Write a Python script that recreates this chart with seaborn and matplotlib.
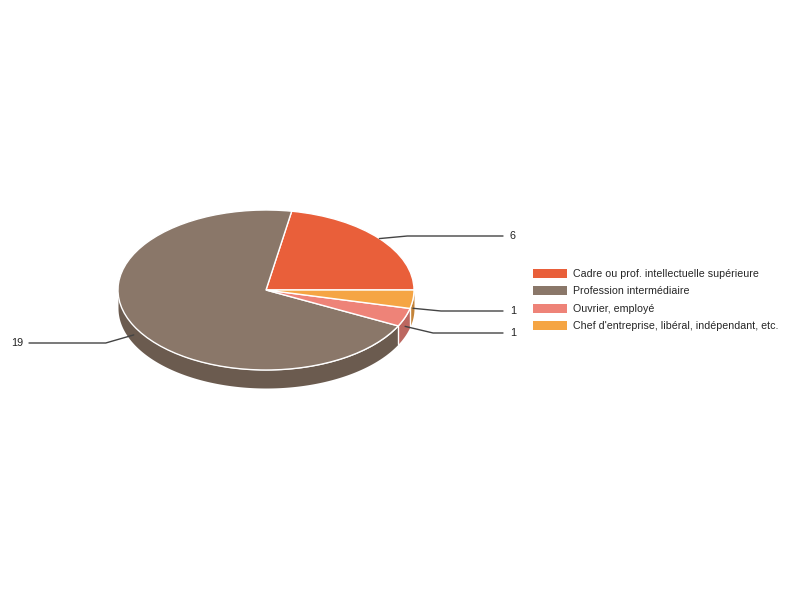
import numpy as np
import matplotlib
matplotlib.use("Agg")
import matplotlib.pyplot as plt
from matplotlib.patches import Patch
import seaborn as sns

categories = ["Cadre ou prof. intellectuelle supérieure",
              "Profession intermédiaire",
              "Ouvrier, employé",
              "Chef d'entreprise, libéral, indépendant, etc."]
counts = [6, 19, 1, 1]
top_colors = ["#E95F3A", "#8A7769", "#EE8378", "#F5A544"]
side_colors = ["#B04828", "#6B5B4F", "#BC6760", "#C4843A"]

sns.set_theme(style="white")
plt.rcParams["font.family"] = ["Liberation Sans", "DejaVu Sans"]

# pixel layout of the reference: centre (266, 290), radii 148 x 80, depth 18
cx, cy, rx, ry, depth_px = 266, 290, 148, 80, 18
depth = depth_px / ry
# label y positions (pixels)
label_y_px = [236, 343, 333, 311]

fig = plt.figure(figsize=(8, 6), dpi=100)
ax = fig.add_axes([0, 0, 1, 1])

# angles of slices (counter-clockwise from east)
vals = np.array(counts, dtype=float)
edges = np.concatenate([[0], np.cumsum(vals) / vals.sum() * 360])

# side walls for the front half
for i in range(len(vals)):
    a0, a1 = max(edges[i], 180), min(edges[i + 1], 360)
    if a1 <= a0:
        continue
    t = np.radians(np.linspace(a0, a1, 200))
    x = np.cos(t)
    ytop = np.sin(t)
    ax.fill_between(x, ytop - depth, ytop, color=side_colors[i], lw=0, zorder=1)
# white seams on the side between slices
for a in edges[1:-1]:
    if 180 < a < 360:
        r = np.radians(a)
        ax.plot([np.cos(r), np.cos(r)], [np.sin(r), np.sin(r) - depth],
                color="white", lw=1, zorder=2)

wedges, _ = ax.pie(counts, colors=top_colors, startangle=0, counterclock=True,
                   radius=1, wedgeprops=dict(edgecolor="white", linewidth=1))
for w in wedges:
    w.set_zorder(3)

ax.set_aspect("auto")
ax.set_xlim(-cx / rx, (800 - cx) / rx)
ax.set_ylim((cy - 600) / ry, cy / ry)
ax.axis("off")

# value labels with leader lines
for i, v in enumerate(counts):
    mid = np.radians((edges[i] + edges[i + 1]) / 2)
    axp, ayp = np.cos(mid), np.sin(mid)
    if np.sin(mid) < 0:
        ayp -= depth / 2
    ly = (cy - label_y_px[i]) / ry
    right = np.cos(mid) >= 0
    sgn = 1 if right else -1
    ex = axp + sgn * 28 / rx
    end_x = (503 - cx) / rx if right else (29 - cx) / rx
    ax.plot([axp, ex, end_x], [ayp, ly, ly], color="#444444", lw=1, zorder=4)
    tx = (510 - cx) / rx if right else (23 - cx) / rx
    ax.text(tx, ly, str(v), ha="left" if right else "right", va="center",
            fontsize=7.8, color="#222222")

handles = [Patch(facecolor=c, edgecolor="none") for c in top_colors]
fig.legend(handles, categories, loc="center left", bbox_to_anchor=(0.666, 0.5),
           frameon=False, fontsize=7.7, handlelength=3.2, handleheight=0.95,
           labelspacing=0.68, handletextpad=0.6, borderpad=0, borderaxespad=0)

fig.savefig("out.png", dpi=100)
